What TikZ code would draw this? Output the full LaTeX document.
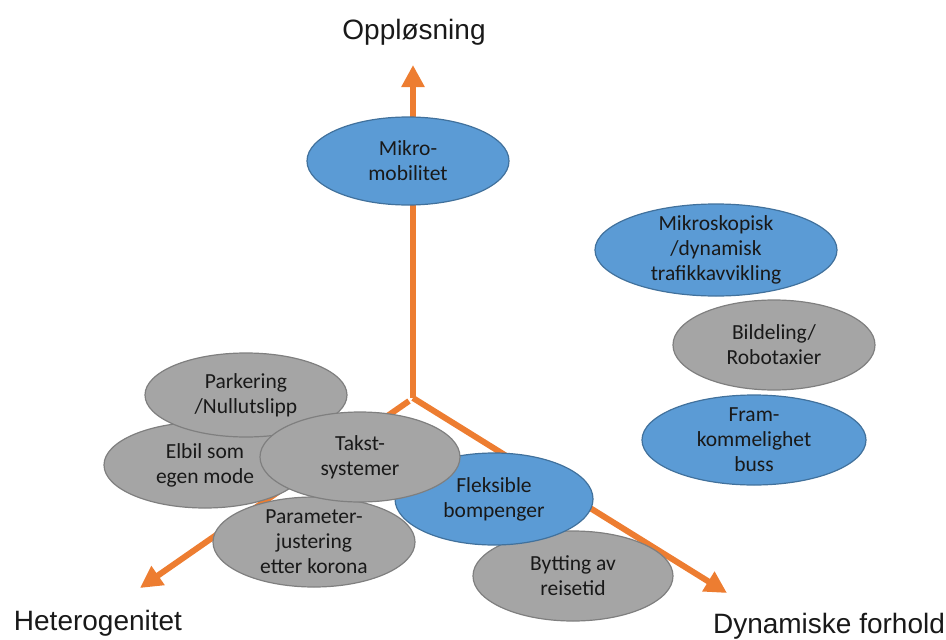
\documentclass[tikz,border=0pt]{standalone}
\usepackage{fontspec}
\setmainfont{Carlito}
\newfontfamily\axisfont{Liberation Sans}
\usepackage{tikz}
\usetikzlibrary{arrows.meta}
\definecolor{axisorange}{HTML}{ED7D31}
\definecolor{ellblue}{HTML}{5B9BD5}
\definecolor{ellblueline}{HTML}{41719C}
\definecolor{ellgray}{HTML}{A5A5A5}
\definecolor{ellgrayline}{HTML}{7F7F7F}

\begin{document}
\begin{tikzpicture} [x = 1pt, y = -1pt,
	axis/.style = {draw = axisorange, line width = 6pt, -{Triangle[width = 22pt, length = 22pt]}},
	blueell/.style = {draw = ellblueline, fill = ellblue, line width = 1.2pt},
	grayell/.style = {draw = ellgrayline, fill = ellgray, line width = 1.2pt},
	elltext/.style = {align = center, text = black!90, font = \fontsize{21.5}{25}\selectfont},
	axislabel/.style = {anchor = base, text = black!90, font = \axisfont\fontsize{28}{32}\selectfont}]
	\useasboundingbox (0,0) rectangle (946,640);

	\coordinate (o) at (413,398);
	\coordinate (oleft) at (409,401);
	\coordinate (tipup) at (413,65);
	\coordinate (tipleft) at (140,588);
	\coordinate (tipright) at (727,593);
	\draw [axis] (o) -- (tipup);
	\draw [axis] (oleft) -- (tipleft);
	\draw [axis] (o) -- (tipright);

	\node [axislabel] (oppl) at (414,39) {Oppløsning};
	\node [axislabel] (hetero) at (98,630) {Heterogenitet};
	\node [axislabel] (dynam) at (829,633) {Dynamiske forhold};

	\draw [blueell] (408,161) ellipse (101 and 44) node [elltext] (mikro) {Mikro-\\mobilitet};
	\draw [blueell] (716,250) ellipse (121 and 46) node [elltext] (mikrosk) {Mikroskopisk\\/dynamisk\\trafikkavvikling};
	\draw [grayell] (774,345) ellipse (101 and 45) node [elltext] (bildel) {Bildeling/\\Robotaxier};
	\draw [blueell] (754,440) ellipse (112 and 45) node [elltext] (fram) {Fram-\\kommelighet\\buss};

	\draw [grayell] (205,465) ellipse (101 and 43) node [elltext] (elbil) {Elbil som\\egen mode};
	\draw [grayell] (246,395) ellipse (101 and 42) node [elltext] (parkering) {Parkering\\/Nullutslipp};
	\draw [grayell] (314,542) ellipse (101 and 45) node [elltext] (param) {Parameter-\\justering\\etter korona};
	\draw [grayell] (573,576) ellipse (100 and 45) node [elltext] (bytting) {Bytting av\\reisetid};
	\draw [blueell] (494,499) ellipse (99 and 46) node [elltext] (fleks) {Fleksible\\bompenger};
	\draw [grayell] (360,457) ellipse (100 and 45) node [elltext] (takst) {Takst-\\systemer};
\end{tikzpicture}
\end{document}
